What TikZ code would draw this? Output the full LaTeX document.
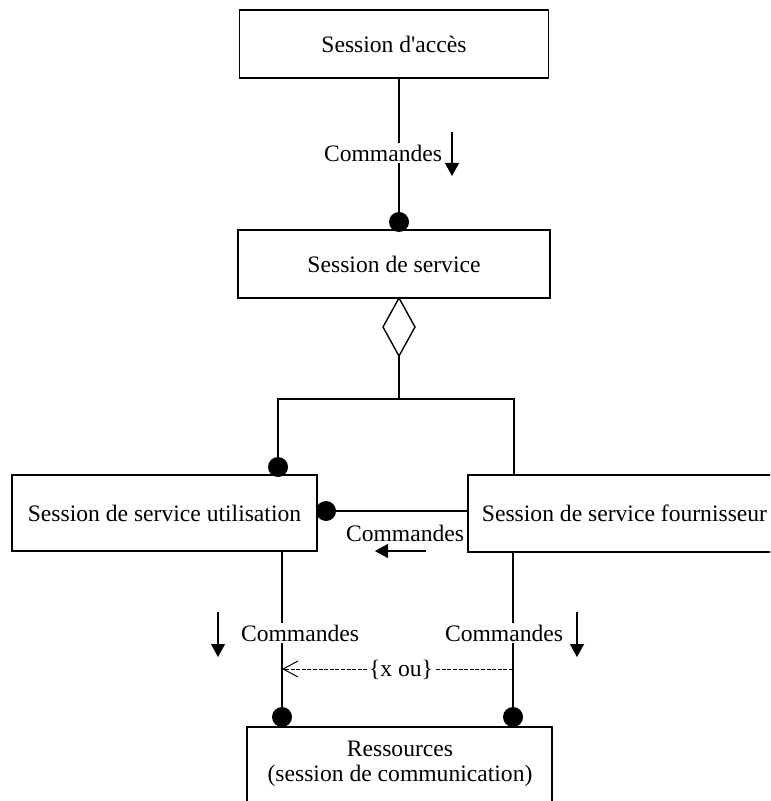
\documentclass[tikz,border=0pt]{standalone}
\usepackage{fontspec}
\setmainfont{Liberation Serif}[Ligatures=TeXOff]
\usetikzlibrary{arrows.meta,calc}
\begin{document}
\begin{tikzpicture}[x=0.5pt,y=-0.5pt,
  every node/.style={font=\fontsize{11.8}{12.5}\selectfont},
  box/.style={draw, line width=0.7pt, inner sep=0pt, fill=white},
  dot/.style={circle, fill=black, inner sep=0pt, minimum size=10pt},
  lbl/.style={fill=white, inner sep=1pt},
  link/.style={line width=0.7pt},
  flow/.style={line width=0.6pt, -{Triangle[width=7pt,length=6.5pt]}},
  xor/.style={line width=0.45pt, dash pattern=on 2pt off 0.8pt,
    -{Straight Barb[length=7.5pt,width=8pt,line width=0.5pt]}},
]
\useasboundingbox (0,0) rectangle (770,801);
\clip (0,0) rectangle (770,801);

% boxes
\node[box, minimum width=154.5pt, minimum height=34pt] (acces) at (394,44) {Session d'accès};
\node[box, minimum width=156pt, minimum height=34pt] (service) at (394,264) {Session de service};
\node[box, minimum width=152.5pt, minimum height=38pt] (util) at (164.5,513) {Session de service utilisation};
\node[box, minimum width=156.5pt, minimum height=38.5pt] (fourn) at (624.5,513.5) {Session de service fournisseur};
\node[box, minimum width=152.5pt, minimum height=50pt] (res) at (399.5,777) {};
\node[align=center] (restext) at (400,764) {Ressources\\(session de communication)};

% connection ends
\node[dot] (d1) at (399,222) {};
\node[dot] (d2) at (278,467) {};
\node[dot] (d3) at (326,511) {};
\node[dot] (d4) at (282,717) {};
\node[dot] (d5) at (513,717) {};
\coordinate (agg) at (399,298);
\coordinate (aggb) at (399,356);
\coordinate (fork) at (399,399);
\coordinate (rtop) at (514,475);

% access -> service
\draw[link] (acces.south -| d1) -- (d1.center);

% aggregation diamond and its branches
\draw[link, fill=white] (agg) -- ++(16,29) -- (aggb) -- ++(-16,-29) -- cycle;
\draw[link] (aggb) -- (fork);
\draw[link] (d2.center) |- (fork) -| (rtop);

% provider -> user
\draw[link] (d3.center) -- (d3.center -| fourn.west);

% sessions -> resources
\draw[link] (d4.center |- util.south) -- (d4.center);
\draw[link] (d5.center |- fourn.south) -- (d5.center);

% exclusive-or constraint
\coordinate (xl) at (282,669);
\coordinate (xr) at (513,669);
\draw[xor] (xr) -- (xl);
\node[lbl] (xorlbl) at (401,670) {\{x ou\}};

% command labels and flow arrows
\node[lbl] (cmd1) at (383,153) {Commandes};
\draw[flow] (452,132) -- (452,176);
\node (cmd2) at (405,533) {Commandes};
\draw[flow] (426,551) -- (375,551);
\node[lbl] (cmd3) at (300,633) {Commandes};
\draw[flow] (218,612) -- (218,657);
\node[lbl] (cmd4) at (504,633) {Commandes};
\draw[flow] (577,612) -- (577,657);
\end{tikzpicture}
\end{document}
